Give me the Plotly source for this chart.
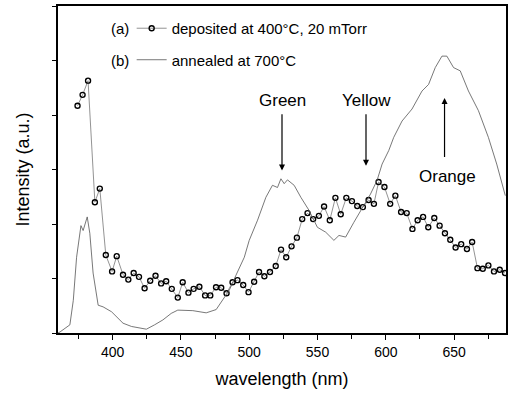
import plotly.graph_objects as go

# Series (a): deposited at 400°C, 20 mTorr
wl_a = [374.3, 378.0, 382.0, 387.0, 390.6, 395.0, 399.6, 403.0, 407.6, 411.5,
        415.4, 419.3, 423.4, 427.5, 431.4, 435.5, 439.2, 443.3, 447.7, 451.3,
        455.5, 459.3, 463.5, 467.7, 471.5, 475.7, 479.5, 483.4, 487.8, 491.4,
        495.6, 499.5, 503.6, 507.2, 511.1, 515.2, 519.4, 523.3, 527.1, 531.0,
        534.9, 538.8, 542.7, 546.8, 551.0, 554.8, 559.0, 563.1, 567.0, 571.1,
        575.2, 579.1, 583.2, 587.4, 591.3, 594.7, 599.0, 603.2, 607.0, 611.2,
        615.3, 619.5, 623.3, 627.3, 631.1, 635.5, 639.4, 643.3, 647.2, 651.1,
        655.2, 659.4, 663.2, 667.1, 671.0, 675.1, 679.2, 683.4, 687.3]
int_a = [4.17, 4.37, 4.63, 2.40, 2.65, 1.43, 1.13, 1.41, 1.07, 0.98,
         1.10, 1.03, 0.82, 0.96, 1.05, 0.91, 0.95, 0.81, 0.65, 0.93,
         0.74, 0.81, 0.85, 0.69, 0.69, 0.84, 0.83, 0.73, 0.93, 0.97,
         0.88, 0.75, 0.94, 1.12, 1.04, 1.12, 1.23, 1.53, 1.39, 1.59,
         1.75, 2.09, 2.20, 2.09, 2.15, 2.32, 2.07, 2.48, 2.18, 2.48,
         2.42, 2.33, 2.31, 2.44, 2.37, 2.77, 2.68, 2.37, 2.52, 2.22,
         2.20, 1.91, 2.07, 2.13, 1.94, 2.11, 1.97, 1.83, 1.71, 1.57,
         1.63, 1.54, 1.67, 1.19, 1.18, 1.24, 1.13, 1.16, 1.10]

# Series (b): annealed at 700°C
wl_b = [360.0, 361.5, 368.7, 371.2, 373.6, 376.8, 378.4, 381.4, 383.3, 385.7,
        389.4, 393.0, 399.2, 402.8, 407.6, 413.8, 424.7, 430.7, 436.8, 442.9,
        447.7, 458.7, 468.5, 475.8, 480.6, 485.5, 490.3, 496.4, 500.0, 506.1,
        512.2, 517.0, 520.7, 523.2, 525.6, 528.0, 532.9, 537.8, 543.8, 549.9,
        556.0, 562.0, 565.7, 570.6, 576.6, 582.7, 588.8, 593.6, 597.3, 602.2,
        605.8, 611.9, 619.2, 626.5, 631.3, 636.2, 641.1, 644.7, 649.6, 654.5,
        660.5, 667.8, 675.1, 681.2, 687.5]
int_b = [0.00, 0.02, 0.15, 0.60, 1.39, 1.97, 1.88, 2.13, 1.83, 1.10,
         0.51, 0.48, 0.39, 0.30, 0.18, 0.12, 0.07, 0.15, 0.24, 0.36,
         0.42, 0.41, 0.37, 0.43, 0.60, 0.79, 1.06, 1.39, 1.70, 2.07,
         2.49, 2.71, 2.67, 2.83, 2.74, 2.81, 2.71, 2.49, 2.25, 1.94,
         1.85, 1.70, 1.79, 1.76, 2.03, 2.28, 2.55, 2.80, 3.10, 3.35,
         3.59, 3.89, 4.11, 4.44, 4.56, 4.87, 5.08, 5.08, 4.87, 4.81,
         4.44, 4.08, 3.59, 3.10, 2.52]

x_ticks = [400, 450, 500, 550, 600, 650]
x_labels = ["400", "450", "500", "550", "600", "650"]

FONT = "Liberation Sans, Arial, sans-serif"

fig = go.Figure()
fig.add_trace(go.Scatter(
    x=wl_a, y=int_a, mode="lines+markers",
    name="deposited at 400°C, 20 mTorr",
    line=dict(color="#777777", width=0.8),
    marker=dict(symbol="circle-open", size=5, color="black", line=dict(width=1.4, color="black")),
    legendgroup="a",
))
fig.add_trace(go.Scatter(
    x=wl_b, y=int_b, mode="lines",
    name="annealed at 700°C",
    line=dict(color="#555555", width=0.8),
    legendgroup="b",
))

# Labels with arrows
labels = [
    dict(text="Green", x=524, y=2.98, ay=4.04, ty=4.26),
    dict(text="Yellow", x=585.5, y=3.07, ay=4.04, ty=4.26),
]
for lb in labels:
    fig.add_annotation(x=lb["x"], y=lb["y"], ax=lb["x"], ay=lb["ay"], axref="x", ayref="y",
                       xref="x", yref="y", showarrow=True, arrowhead=2, arrowsize=1,
                       arrowwidth=1.2, arrowcolor="black", text="")
    fig.add_annotation(x=lb["x"], y=lb["ty"], xref="x", yref="y", text=lb["text"],
                       showarrow=False, font=dict(family=FONT, size=17, color="black"))
fig.add_annotation(x=643, y=4.31, ax=643, ay=3.2, axref="x", ayref="y", xref="x", yref="y",
                   showarrow=True, arrowhead=2, arrowsize=1, arrowwidth=1.2,
                   arrowcolor="black", text="")
fig.add_annotation(x=645.5, y=2.87, xref="x", yref="y", text="Orange", showarrow=False,
                   font=dict(family=FONT, size=17, color="black"))

# (a)/(b) prefixes for the legend
fig.add_annotation(x=(120 - 58) / 450, y=(333 - 28) / 328, xref="paper", yref="paper",
                   xanchor="center", yanchor="middle",
                   text="(a)", showarrow=False, font=dict(family=FONT, size=15, color="black"))
fig.add_annotation(x=(120 - 58) / 450, y=(333 - 60) / 328, xref="paper", yref="paper",
                   xanchor="center", yanchor="middle",
                   text="(b)", showarrow=False, font=dict(family=FONT, size=15, color="black"))

fig.update_layout(
    width=512, height=394,
    margin=dict(l=58, r=4, t=5, b=61),
    paper_bgcolor="white", plot_bgcolor="white",
    font=dict(family=FONT, color="black"),
    legend=dict(x=(132 - 58) / 450, y=(333 - 11) / 328, xanchor="left", yanchor="top",
                bgcolor="rgba(0,0,0,0)", font=dict(family=FONT, size=15, color="black"),
                tracegroupgap=9, itemwidth=30, traceorder="grouped"),
    showlegend=True,
)
fig.update_xaxes(
    range=[360, 688], tickvals=x_ticks, ticktext=x_labels,
    ticks="outside", ticklen=5, tickwidth=1.2, tickcolor="black",
    minor=dict(tickvals=[375, 425, 475, 525, 575, 625, 675], ticks="outside", ticklen=4, tickcolor="black"),
    showline=True, linecolor="black", linewidth=1.5, mirror=True,
    showgrid=False, zeroline=False,
    tickfont=dict(family=FONT, size=14, color="black"),
    title=dict(text="wavelength (nm)", font=dict(family=FONT, size=18, color="black"), standoff=14),
)
fig.update_yaxes(
    range=[0, 6], dtick=1, showticklabels=False,
    ticks="outside", ticklen=4, tickwidth=1.2, tickcolor="black",
    showline=True, linecolor="black", linewidth=1.5, mirror=True,
    showgrid=False, zeroline=False,
    title=dict(text="Intensity (a.u.)", font=dict(family=FONT, size=18, color="black"), standoff=18),
)

fig.write_html("out.html", config={"displayModeBar": False},
               post_script="document.body.style.margin='0';document.body.style.padding='0';")
